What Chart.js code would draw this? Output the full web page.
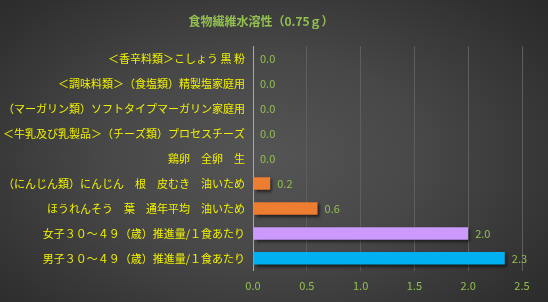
<!DOCTYPE html>
<html><head><meta charset="utf-8">
<script src="https://cdn.jsdelivr.net/npm/chart.js@4"></script>
<style>
html,body{margin:0;padding:0;}
body{width:548px;height:302px;overflow:hidden;background:radial-gradient(ellipse 75% 85% at 48% 52%, #555555 0%, #474747 40%, #303030 80%, #262626 100%);}
canvas{display:block;}
</style></head>
<body>
<canvas id="c" width="548" height="302"></canvas>
<script>
const chartTitle = '食物繊維水溶性（0.75ｇ）';
const categories = [
  '＜香辛料類＞こしょう 黒 粉',
  '＜調味料類＞（食塩類）精製塩家庭用',
  '（マーガリン類）ソフトタイプマーガリン家庭用',
  '＜牛乳及び乳製品＞（チーズ類）プロセスチーズ',
  '鶏卵　全卵　生',
  '（にんじん類）にんじん　根　皮むき　油いため',
  'ほうれんそう　葉　通年平均　油いため',
  '女子３０～４９（歳）推進量/１食あたり',
  '男子３０～４９（歳）推進量/１食あたり'
];
const values = [0, 0, 0, 0, 0, 0.16, 0.6, 2.0, 2.34];
const barColors = ['#ed7d31','#ed7d31','#ed7d31','#ed7d31','#ed7d31','#ed7d31','#ed7d31','#cc99ff','#00b0f0'];
const xTicks = [0, 0.5, 1.0, 1.5, 2.0, 2.5];

const FONT = '"Noto Sans CJK JP", "Noto Sans", sans-serif';
const GREEN = '#92c050';
const YELLOW = '#f0f000';

const shadowPlugin = {
  id: 'barShadow',
  beforeDatasetDraw(chart) {
    const ctx = chart.ctx;
    ctx.save();
    ctx.shadowColor = 'rgba(0,0,0,0.6)';
    ctx.shadowBlur = 3;
    ctx.shadowOffsetX = 2;
    ctx.shadowOffsetY = 2;
  },
  afterDatasetDraw(chart) { chart.ctx.restore(); }
};

const valueLabels = {
  id: 'valueLabels',
  afterDatasetsDraw(chart) {
    const ctx = chart.ctx;
    const meta = chart.getDatasetMeta(0);
    ctx.save();
    ctx.font = '11px ' + FONT;
    ctx.fillStyle = GREEN;
    ctx.textAlign = 'left';
    ctx.textBaseline = 'middle';
    meta.data.forEach((bar, i) => {
      const v = values[i];
      ctx.fillText((Math.round(v * 10) / 10).toFixed(1), bar.x + 7, bar.y);
    });
    ctx.restore();
  }
};

new Chart(document.getElementById('c'), {
  type: 'bar',
  data: {
    labels: categories,
    datasets: [{
      data: values,
      backgroundColor: barColors,
      borderWidth: 0,
      barPercentage: 1.0,
      categoryPercentage: 0.5
    }]
  },
  options: {
    indexAxis: 'y',
    responsive: false,
    animation: false,
    devicePixelRatio: 1,
    layout: { padding: { left: 0, right: 26, top: 0, bottom: 2 } },
    plugins: {
      legend: { display: false },
      tooltip: { enabled: false },
      title: {
        display: true,
        text: chartTitle,
        color: GREEN,
        font: { family: FONT, size: 12, weight: 'bold' },
        padding: { top: 14, bottom: 18 }
      }
    },
    scales: {
      x: {
        min: 0, max: 2.5,
        afterBuildTicks(scale) { scale.ticks = xTicks.map(v => ({ value: v })); },
        ticks: {
          color: GREEN,
          font: { family: FONT, size: 11 },
          padding: 8,
          callback: v => Number(v).toFixed(1)
        },
        grid: { color: '#5e5e5e', drawTicks: false, lineWidth: 1 },
        border: { display: false }
      },
      y: {
        afterFit(scale) { scale.width = 253; },
        ticks: {
          color: YELLOW,
          font: { family: FONT, size: 11 },
          padding: 8,
          autoSkip: false
        },
        grid: { display: false, drawTicks: false },
        border: { display: true, color: '#a8a8a8', width: 1 }
      }
    }
  },
  plugins: [shadowPlugin, valueLabels]
});
</script>
</body></html>
